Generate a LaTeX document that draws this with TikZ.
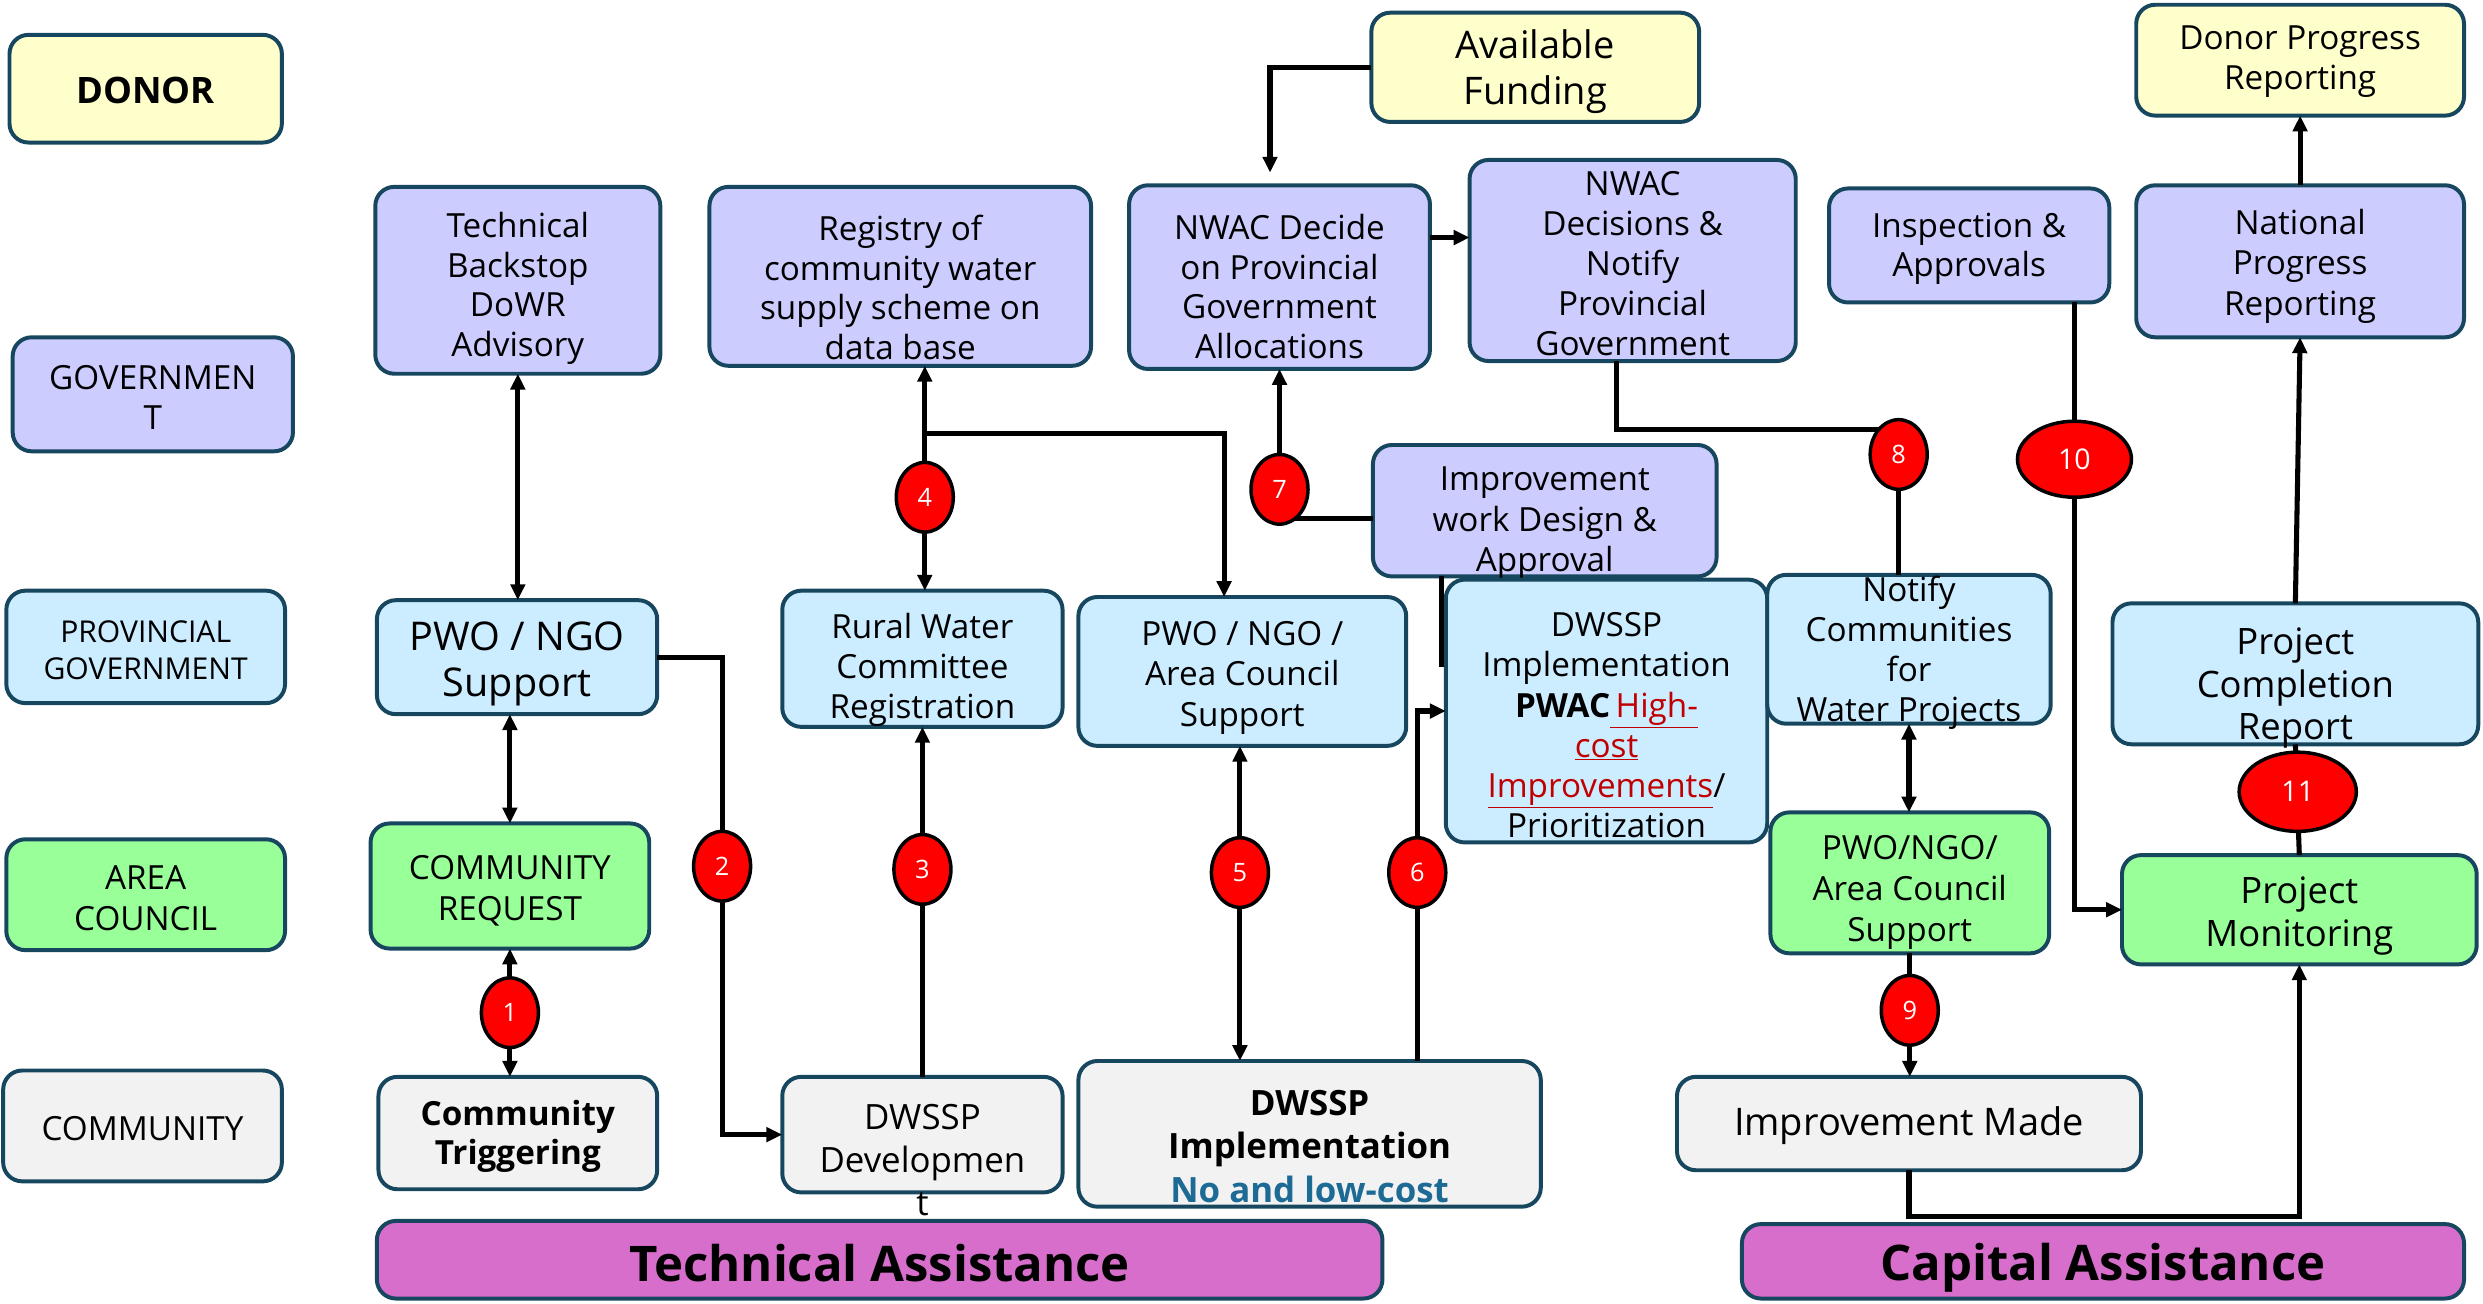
\documentclass[tikz,border=0pt]{standalone}
\usepackage{fontspec}
\setmainfont{Open Sans}
\usetikzlibrary{arrows.meta,calc,shapes.geometric}
\definecolor{bord}{HTML}{17465F}
\definecolor{cy}{HTML}{FFFFCC}
\definecolor{cl}{HTML}{CCCCFF}
\definecolor{cb}{HTML}{CCECFF}
\definecolor{cg}{HTML}{99FF99}
\definecolor{cw}{HTML}{F2F2F2}
\definecolor{cm}{HTML}{D86ECC}
\definecolor{nlc}{HTML}{1D6B94}
\definecolor{hired}{HTML}{C00000}
\newcommand\myfs[2]{\fontsize{#1}{#2}\selectfont}
\newcommand\mkbox[9]{%
  \node[bx, fill=#6, minimum width={(#4)-(#2)}, minimum height={(#5)-(#3)}] (#1) at ({((#2)+(#4))/2},{((#3)+(#5))/2}) {};
  \node[txt, font=#8] (#1-t) at ($(#1.center)+(0,#7+3)$) {#9};}
\begin{document}
\begin{tikzpicture}[x=1pt,y=-1pt,
  bx/.style={draw=bord, line width=2.5pt, rounded corners=12pt, inner sep=0pt, outer sep=0pt},
  txt/.style={align=center, inner sep=0pt},
  aw/.style={line width=3.2pt, draw=black},
  >={Triangle[length=10pt,width=9pt]},
  num/.style={ellipse, draw=black, fill=red, line width=2.2pt, minimum width=36pt, minimum height=44pt, inner sep=0pt, text=white, font=\myfs{16}{16}},
  bignum/.style={num, minimum width=72pt, minimum height=48pt, font=\myfs{18}{18}}]
\useasboundingbox (0,0) rectangle (1568,823);

% ---------- row labels ----------
\mkbox{donor}{6}{22}{178}{90}{cy}{-2}{\myfs{23}{27}\bfseries}{DONOR}
\mkbox{gov}{8}{213}{185}{285}{cl}{-1}{\myfs{21}{25}}{GOVERNMEN\\T}
\mkbox{prov}{4}{373}{180}{444}{cb}{-1}{\myfs{19}{23}}{PROVINCIAL\\GOVERNMENT}
\mkbox{area}{4}{530}{180}{600}{cg}{-1}{\myfs{21}{26}}{AREA\\COUNCIL}
\mkbox{comm}{2}{676}{178}{746}{cw}{-1}{\myfs{21}{25}}{COMMUNITY}

% ---------- column 2 ----------
\mkbox{tb}{237}{118}{417}{236}{cl}{2}{\myfs{21}{25}}{Technical\\Backstop\\DoWR\\Advisory}
\mkbox{pwo1}{238}{379}{415}{451}{cb}{1}{\myfs{25}{29}}{PWO / NGO\\Support}
\mkbox{creq}{234}{520}{410}{599}{cg}{0}{\myfs{21}{26}}{COMMUNITY\\REQUEST}
\mkbox{ctrig}{239}{680}{415}{751}{cw}{-1}{\myfs{21}{25}\bfseries}{Community\\Triggering}

% ---------- column 3 ----------
\mkbox{reg}{448}{118}{689}{231}{cl}{4}{\myfs{21}{25}}{Registry of\\community water\\supply scheme on\\data base}
\mkbox{rwc}{494}{373}{671}{459}{cb}{4}{\myfs{21}{25}}{Rural Water\\Committee\\Registration}
\mkbox{dev}{494}{680}{671}{753}{cw}{13}{\myfs{22}{27}}{DWSSP\\Developmen\\t}
\mkbox{tassist}{238}{771}{873}{820}{cm}{-1}{\myfs{31}{31}\bfseries}{Technical Assistance}

% ---------- column 4 ----------
\mkbox{nwac1}{713}{117}{903}{233}{cl}{3}{\myfs{21}{25}}{NWAC Decide\\on Provincial\\Government\\Allocations}
\mkbox{pwo2}{681}{377}{888}{471}{cb}{1}{\myfs{21}{25.5}}{PWO / NGO /\\Area Council\\Support}
\mkbox{impl1}{681}{670}{973}{762}{cw}{5}{\myfs{22}{27.5}\bfseries}{DWSSP\\Implementation\\\textcolor{nlc}{No and low-cost}}

% ---------- middle / right ----------
\mkbox{fund}{866}{8}{1073}{77}{cy}{0}{\myfs{24}{29}}{Available\\Funding}
\mkbox{nwac2}{928}{101}{1134}{228}{cl}{-1}{\myfs{21}{25.3}}{NWAC\\Decisions \&\\Notify\\Provincial\\Government}
\mkbox{iwd}{867}{281}{1084}{364}{cl}{5}{\myfs{21}{25.5}}{Improvement\\work Design \&\\Approval}
\mkbox{pwac}{913}{366}{1116}{532}{cb}{6}{\myfs{21}{25.4}}{DWSSP\\Implementation\\\textbf{PWAC}\textcolor{hired}{\underline{\,High-}}\\\textcolor{hired}{\underline{cost}}\\\textcolor{hired}{\underline{Improvements}}/\\Prioritization}
\mkbox{insp}{1155}{119}{1332}{191}{cl}{-1}{\myfs{21}{25}}{Inspection \&\\Approvals}
\mkbox{ncom}{1116}{363}{1295}{457}{cb}{-1}{\myfs{21}{25.3}}{Notify\\Communities\\for\\Water Projects}
\mkbox{pwo3}{1118}{513}{1294}{602}{cg}{3}{\myfs{21}{26}}{PWO/NGO/\\Area Council\\Support}
\mkbox{imade}{1059}{680}{1352}{739}{cw}{-2}{\myfs{24}{28}}{Improvement Made}
\mkbox{cassist}{1100}{773}{1556}{820}{cm}{1}{\myfs{31}{31}\bfseries}{Capital Assistance}
\mkbox{dpr}{1349}{3}{1556}{73}{cy}{-2}{\myfs{21}{25}}{Donor Progress\\Reporting}
\mkbox{npr}{1349}{117}{1556}{213}{cl}{0}{\myfs{21}{25.5}}{National\\Progress\\Reporting}
\mkbox{pcr}{1334}{381}{1565}{470}{cb}{6}{\myfs{23}{27}}{Project\\Completion\\Report}
\mkbox{pmon}{1340}{540}{1564}{609}{cg}{1}{\myfs{23}{27}}{Project\\Monitoring}

% ---------- helper coordinates ----------
\coordinate (p2) at (456,547);
\coordinate (p4) at (584,314);
\coordinate (p5) at (783,551);
\coordinate (p6) at (895,551);
\coordinate (p7) at (808,309);
\coordinate (p8) at (1199,287);
\coordinate (p9) at (1206,638);
\coordinate (p10) at (1310,290);
\coordinate (p11) at (1451,500);
\coordinate (j4) at (584,274);
\coordinate (j4b) at (773,274);
\coordinate (x910) at (910,0);
\coordinate (xf) at (802,0);
\coordinate (x1021) at (1021,0);
\coordinate (y271) at (0,271);
\coordinate (y768) at (0,768);

% ---------- connectors ----------
\draw[aw,<->] (tb.south) -- (tb.south |- pwo1.north);
\draw[aw,<->] (creq.north |- pwo1.south) -- (creq.north);
\draw[aw,<->] (creq.south) -- (creq.south |- ctrig.north);
\coordinate (p1) at ($(creq.south)!0.5!(creq.south |- ctrig.north)$);
\draw[aw,->] (pwo1.east) -| (p2) |- (dev.west);
\draw[aw,->] (dev.north) -- (rwc.south);
\coordinate (p3) at ($(dev.north)+(0,-131)$);
\draw[aw,->] (j4) -- (j4 |- reg.south);
\draw[aw,->] (j4) -- (j4 |- rwc.north);
\draw[aw,->] (j4) -- (j4b) -- (j4b |- pwo2.north);
\draw[aw,<->] (p5 |- pwo2.south) -- (p5 |- impl1.north);
\draw[aw,->] (p6 |- impl1.north) |- (pwac.west);
\draw[aw,->] ([yshift=-5pt]iwd.west) -| (nwac1.south);
\draw[aw] (iwd.south -| x910) -- ++(0,57);
\draw[aw,->] (fund.west) -| ([yshift=8pt]xf |- nwac1.north);
\draw[aw,->] ([yshift=25pt]nwac1.east) -- ([yshift=25pt]nwac1.east -| nwac2.west);
\draw[aw] (x1021 |- nwac2.south) |- (p8 |- y271) -- (p8 |- ncom.north);
\draw[aw,<->] (ncom.south) -- (ncom.south |- pwo3.north);
\draw[aw,->] (pwo3.south) -- (pwo3.south |- imade.north);
\draw[aw,->] (p10 |- insp.south) |- (pmon.west);
\draw[aw,->] (imade.south) -- (imade.south |- y768) -| (pmon.south);
\draw[aw] (pmon.north) -- (pcr.south);
\draw[aw,->] (pcr.north) -- (npr.south);
\draw[aw,->] (npr.north) -- (dpr.south);

% ---------- numbered markers ----------
\node[num] (c1) at (p1) {1};
\node[num] (c2) at (p2) {2};
\node[num] (c3) at (p3) {3};
\node[num] (c4) at (p4) {4};
\node[num] (c5) at (p5) {5};
\node[num] (c6) at (p6) {6};
\node[num] (c7) at (p7) {7};
\node[num] (c8) at (p8) {8};
\node[num] (c9) at (p9) {9};
\node[bignum] (c10) at (p10) {10};
\node[bignum, minimum width=74pt, minimum height=50pt] (c11) at (p11) {11};
\end{tikzpicture}
\end{document}
